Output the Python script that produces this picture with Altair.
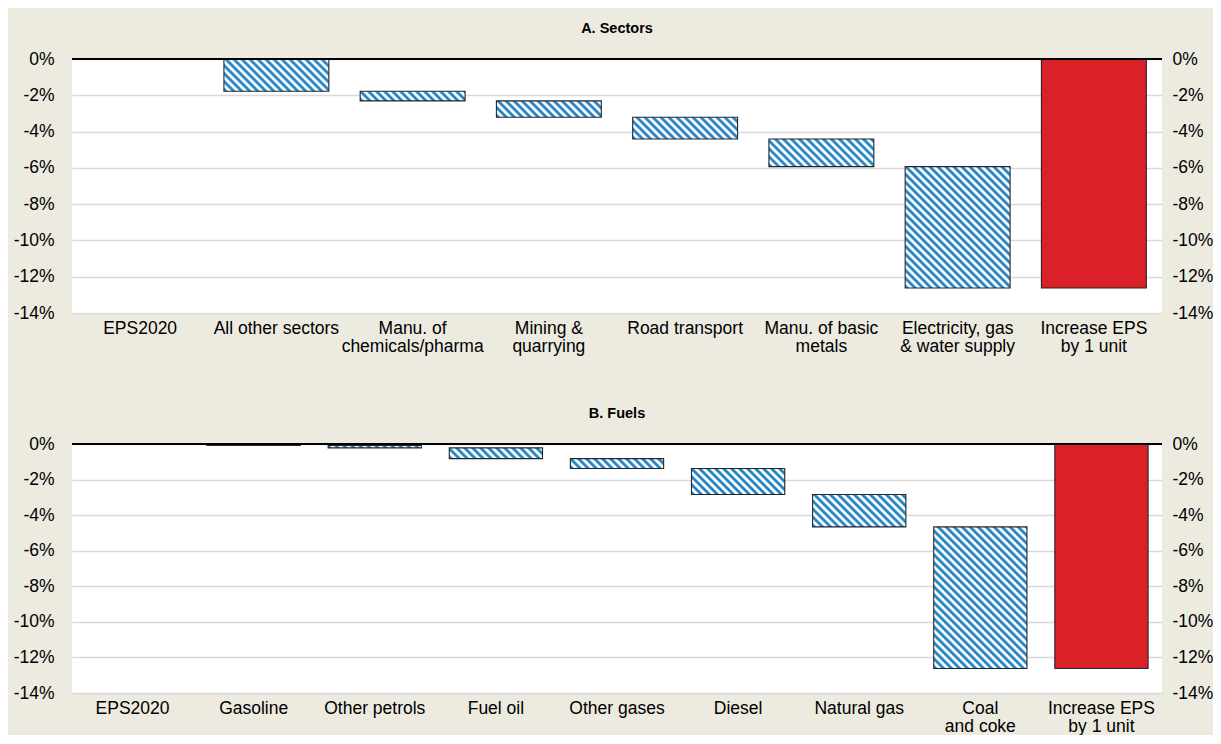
import altair as alt
import pandas as pd

# ---------------- data ----------------
sector_labels = ["EPS2020", "All other sectors", "Manu. of|chemicals/pharma", "Mining &|quarrying",
                 "Road transport", "Manu. of basic|metals", "Electricity, gas|& water supply"]
sector_changes = [0.0, -1.78, -0.53, -0.90, -1.20, -1.52, -6.69]

fuel_labels = ["EPS2020", "Gasoline", "Other petrols", "Fuel oil", "Other gases", "Diesel",
               "Natural gas", "Coal|and coke"]
fuel_changes = [0.0, -0.08, -0.14, -0.60, -0.56, -1.46, -1.82, -7.96]

total_label = "Increase EPS|by 1 unit"
panel_titles = ["A. Sectors", "B. Fuels"]
y_ticks = [-14, -12, -10, -8, -6, -4, -2, 0]

# ---------------- style ----------------
BG = "#EDEAE0"
BLUE = "#2384C6"
RED = "#DA2128"
GRID = "#D9D9D9"
FONT = "Liberation Sans"
LABEL_SIZE = 17.5
PLOT_W = 1090
PAD_INNER = 0.23


def build_table(labels, changes):
    rows = []
    level = 0.0
    for lab, ch in zip(labels, changes):
        rows.append({"cat": lab, "start": level, "end": level + ch, "kind": "step"})
        level += ch
    rows.append({"cat": total_label, "start": 0.0, "end": level, "kind": "total"})
    return pd.DataFrame(rows)


def stripe_gradient(w, h, period=8.0):
    """Diagonal blue/white stripes as a bbox linear gradient at 45 degrees."""
    n = max((w + h) / period, 1.0)
    soft = 0.12 / n
    stops = []
    j = 0
    while j / n < 1:
        a, b, c = j / n, (j + 0.5) / n, (j + 1) / n
        for off, col in [(a + soft, BLUE), (b - soft, BLUE), (b + soft, "#FFFFFF"), (c - soft, "#FFFFFF")]:
            stops.append({"offset": min(max(off, 0.0), 1.0), "color": col})
        j += 1
    k = (w + h) / (w * w + h * h)
    return {"gradient": "linear", "stops": stops, "x1": 0, "y1": 1, "x2": k * w, "y2": 1 - k * h}


def y_axis(orient, grid, pad):
    return alt.Axis(title=None, orient=orient, values=y_ticks, labelExpr="datum.value + '%'",
                    ticks=False, domain=False, grid=grid, gridColor=GRID, gridWidth=1.5,
                    labelPadding=pad, labelFont=FONT, labelFontSize=LABEL_SIZE, labelColor="black")


def panel(labels, changes, title, plot_h):
    df = build_table(labels, changes)
    cats = list(df["cat"])
    n = len(cats)
    bar_w = PLOT_W / n * (1 - PAD_INNER)
    px_per_unit = plot_h / (max(y_ticks) - min(y_ticks))

    xscale = alt.Scale(domain=cats, paddingInner=PAD_INNER, paddingOuter=PAD_INNER / 2)
    yscale = alt.Scale(domain=[min(y_ticks), max(y_ticks)], nice=False, zero=False)
    xaxis = alt.Axis(title=None, labelAngle=0, ticks=False, domain=False, grid=False,
                     labelPadding=6, labelExpr="split(datum.label, '|')", labelFont=FONT,
                     labelFontSize=LABEL_SIZE, labelLineHeight=18.5, labelColor="black", labelLimit=300)
    left_axis = y_axis("left", True, 18)
    x = alt.X("cat:N", scale=xscale, axis=xaxis)

    layers = []
    for _, row in df.iterrows():
        if row["start"] == row["end"]:
            continue
        h = abs(row["end"] - row["start"]) * px_per_unit
        fill = RED if row["kind"] == "total" else stripe_gradient(bar_w, h)
        layers.append(
            alt.Chart(df)
            .transform_filter(alt.FieldEqualPredicate(field="cat", equal=row["cat"]))
            .mark_bar(fill=fill, stroke="#262626", strokeWidth=1.1)
            .encode(x=x, y=alt.Y("start:Q", scale=yscale, axis=left_axis), y2="end:Q")
        )
    zero = alt.Chart(df).mark_rule(color="black", strokeWidth=2).encode(
        y=alt.YDatum(0, type="quantitative", scale=yscale, axis=left_axis))
    right = alt.Chart(df).mark_rule(opacity=0).encode(
        y=alt.YDatum(0, type="quantitative", scale=yscale, axis=y_axis("right", False, 10)))

    return (
        alt.layer(alt.layer(*layers, zero), right)
        .resolve_scale(y="independent")
        .properties(width=PLOT_W, height=plot_h,
                    title=alt.TitleParams(title, font=FONT, fontSize=14.5, fontWeight="bold",
                                          color="black", anchor="middle", frame="group", offset=14))
    )


chart = (
    alt.vconcat(
        panel(sector_labels, sector_changes, panel_titles[0], 254),
        panel(fuel_labels, fuel_changes, panel_titles[1], 249),
        spacing=50,
    )
    .configure(background=BG, padding={"left": 5, "top": 12, "right": 0, "bottom": 0})
    .configure_view(fill="white", strokeWidth=0)
)

chart.save("out.html", embed_options={"renderer": "svg", "actions": False})
